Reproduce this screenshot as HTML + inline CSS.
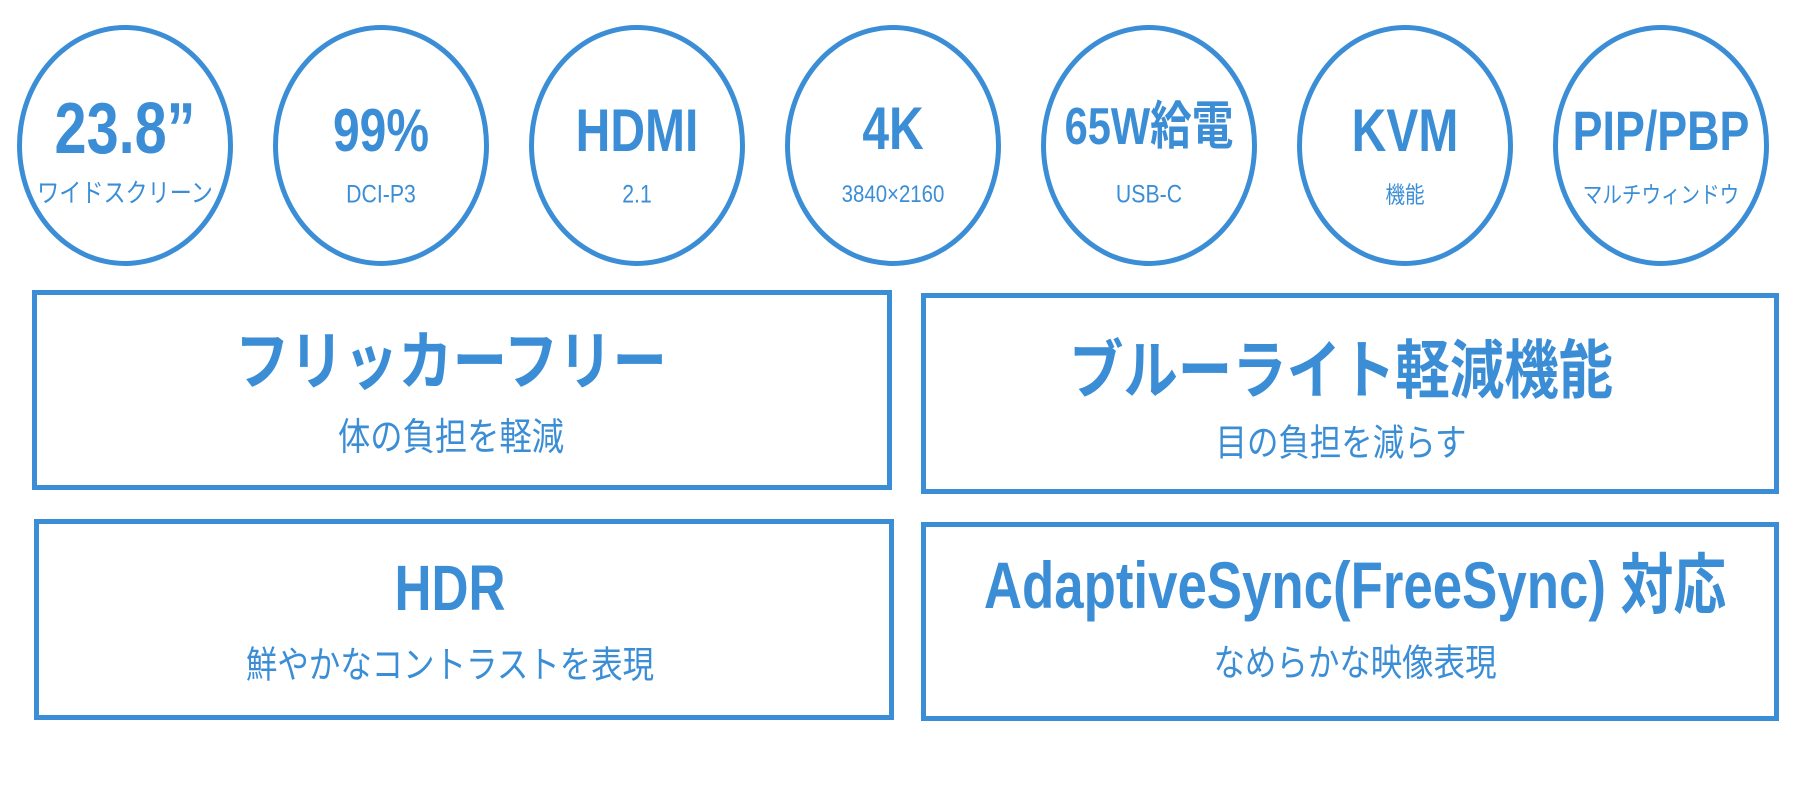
<!DOCTYPE html>
<html><head><meta charset="utf-8"><style>
body{margin:0;width:1800px;height:807px;background:#fff;position:relative;overflow:hidden;font-family:"Liberation Sans","Noto Sans CJK JP",sans-serif;color:#3b8ed6}
.c{position:absolute;width:216px;height:241px;border:5px solid #3b8ed6;border-radius:50%;box-sizing:border-box;top:25px}
.t{position:absolute;left:50%;white-space:nowrap;transform:translate(-50%,-50%) scaleX(.85);line-height:1}
.b{font-weight:bold;transform:translate(-50%,-50%) scaleX(.8)}
.r{position:absolute;border:5px solid #3b8ed6;box-sizing:border-box}
</style></head><body>
<div class="c" style="left:17px"></div>
<div class="c" style="left:273px"></div>
<div class="c" style="left:529px"></div>
<div class="c" style="left:785px"></div>
<div class="c" style="left:1041px"></div>
<div class="c" style="left:1297px"></div>
<div class="c" style="left:1553px"></div>

<div class="t b" style="left:125px;top:129px;font-size:72px">23.8”</div>
<div class="t" style="left:125px;top:193px;font-size:26px">ワイドスクリーン</div>
<div class="t b" style="left:381px;top:131px;font-size:60px">99%</div>
<div class="t" style="left:381px;top:195px;font-size:25px">DCI-P3</div>
<div class="t b" style="left:637px;top:131px;font-size:60px">HDMI</div>
<div class="t" style="left:637px;top:195px;font-size:25px">2.1</div>
<div class="t b" style="left:893px;top:129px;font-size:60px">4K</div>
<div class="t" style="left:893px;top:195px;font-size:24px">3840×2160</div>
<div class="t b" style="left:1149px;top:127px;font-size:52px">65W給電</div>
<div class="t" style="left:1149px;top:195px;font-size:25px">USB-C</div>
<div class="t b" style="left:1405px;top:131px;font-size:60px">KVM</div>
<div class="t" style="left:1405px;top:195px;font-size:23px">機能</div>
<div class="t b" style="left:1661px;top:131px;font-size:56px">PIP/PBP</div>
<div class="t" style="left:1661px;top:195px;font-size:23px">マルチウィンドウ</div>

<div class="r" style="left:32px;top:290px;width:860px;height:200px"></div>
<div class="r" style="left:921px;top:293px;width:858px;height:201px"></div>
<div class="r" style="left:34px;top:519px;width:860px;height:201px"></div>
<div class="r" style="left:921px;top:522px;width:858px;height:199px"></div>

<div class="t" style="left:451px;top:362px;font-size:64px;font-weight:bold">フリッカーフリー</div>
<div class="t" style="left:451px;top:438px;font-size:38px">体の負担を軽減</div>
<div class="t" style="left:1341px;top:371px;font-size:64px;font-weight:bold">ブルーライト軽減機能</div>
<div class="t" style="left:1341px;top:443px;font-size:37px">目の負担を減らす</div>
<div class="t b" style="left:450px;top:588px;font-size:64px">HDR</div>
<div class="t" style="left:450px;top:665px;font-size:37px">鮮やかなコントラストを表現</div>
<div class="t b" style="left:1355px;top:585px;font-size:66px">AdaptiveSync(FreeSync) 対応</div>
<div class="t" style="left:1355px;top:663px;font-size:37px">なめらかな映像表現</div>
</body></html>
